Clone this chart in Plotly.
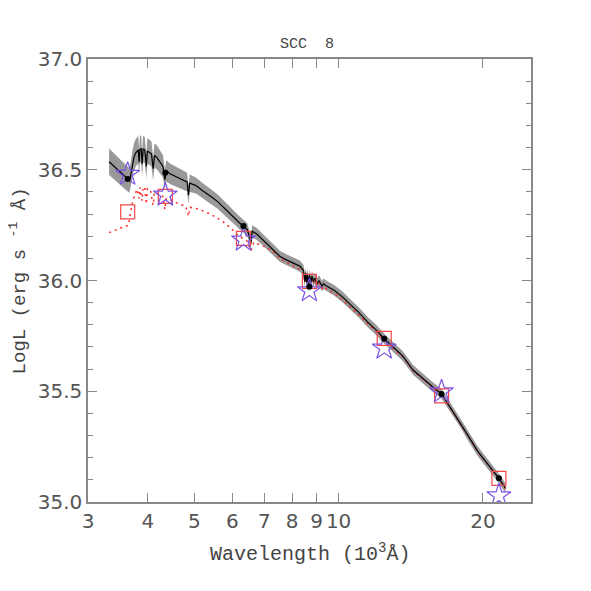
import numpy as np
import plotly.graph_objects as go

# =============================================================================
# DATA  (wavelength in 10^3 Angstrom, luminosity as log L)
# =============================================================================

sed_wave = [
    3.32, 3.40, 3.48, 3.56, 3.63, 3.66, 3.68, 3.71, 3.74, 3.77, 3.80, 3.82,
    3.835, 3.85, 3.875, 3.889, 3.91, 3.94, 3.97, 3.99, 4.03, 4.07, 4.102,
    4.13, 4.18, 4.24, 4.30, 4.34, 4.37, 4.45, 4.55, 4.65, 4.75, 4.83, 4.861,
    4.89, 4.95, 5.05, 5.17, 5.30, 5.45, 5.60, 5.75, 5.90, 6.05, 6.20, 6.33,
    6.45, 6.563, 6.60, 6.75, 6.90, 7.10, 7.30, 7.55, 7.80, 8.05, 8.30, 8.45,
    8.50, 8.54, 8.58, 8.62, 8.66, 8.70, 8.75, 8.80, 8.86, 8.92, 9.01, 9.10,
    9.23, 9.30, 9.44, 9.80, 10.2, 10.6, 11.0, 11.5, 12.0, 12.45, 13.0, 13.6,
    14.3, 15.0, 15.7, 16.4, 17.2, 18.0, 18.5, 19.5, 20.5, 21.6, 22.3,
]
sed_logl = [
    36.536, 36.515, 36.495, 36.475, 36.458, 36.452, 36.470, 36.520, 36.555,
    36.575, 36.585, 36.590, 36.535, 36.592, 36.595, 36.525, 36.593, 36.590,
    36.515, 36.585, 36.578, 36.572, 36.505, 36.565, 36.555, 36.535, 36.515,
    36.455, 36.495, 36.482, 36.470, 36.462, 36.452, 36.445, 36.385, 36.440,
    36.435, 36.428, 36.410, 36.395, 36.375, 36.355, 36.330, 36.305, 36.285,
    36.262, 36.245, 36.230, 36.170, 36.222, 36.210, 36.190, 36.165, 36.140,
    36.108, 36.092, 36.080, 36.065, 36.045, 35.995, 36.035, 35.990, 36.030,
    35.975, 36.025, 35.990, 36.020, 35.995, 36.010, 35.985, 36.000, 35.975,
    35.985, 35.975, 35.955, 35.925, 35.890, 35.857, 35.812, 35.775, 35.737,
    35.700, 35.660, 35.596, 35.555, 35.520, 35.488, 35.420, 35.355, 35.310,
    35.230, 35.170, 35.107, 35.062,
]
# half-width of the grey uncertainty band
sed_err = [
    0.060, 0.058, 0.057, 0.056, 0.056, 0.056, 0.058, 0.060, 0.062, 0.062,
    0.062, 0.062, 0.055, 0.062, 0.060, 0.055, 0.060, 0.058, 0.055, 0.058,
    0.057, 0.056, 0.052, 0.055, 0.054, 0.052, 0.050, 0.048, 0.048, 0.046,
    0.045, 0.044, 0.043, 0.042, 0.040, 0.040, 0.038, 0.036, 0.035, 0.034,
    0.033, 0.032, 0.031, 0.030, 0.030, 0.029, 0.029, 0.028, 0.028, 0.028,
    0.027, 0.027, 0.026, 0.026, 0.025, 0.025, 0.025, 0.025, 0.025, 0.028,
    0.025, 0.028, 0.025, 0.028, 0.025, 0.026, 0.025, 0.025, 0.025, 0.025,
    0.024, 0.024, 0.024, 0.024, 0.024, 0.024, 0.023, 0.023, 0.023, 0.023,
    0.023, 0.022, 0.022, 0.022, 0.022, 0.022, 0.022, 0.022, 0.022, 0.022,
    0.022, 0.022, 0.022, 0.022,
]

red_wave = [
    3.32, 3.42, 3.52, 3.60, 3.645, 3.66, 3.69, 3.72, 3.76, 3.80, 3.835, 3.85,
    3.889, 3.91, 3.94, 3.97, 3.99, 4.05, 4.102, 4.13, 4.22, 4.30, 4.34, 4.37,
    4.50, 4.65, 4.80, 4.861, 4.90, 5.05, 5.20, 5.40, 5.60, 5.80, 6.00, 6.20,
    6.43, 6.563, 6.65, 6.85, 7.08, 7.30, 7.55, 7.80, 8.05, 8.30, 8.45, 8.50,
    8.54, 8.58, 8.62, 8.66, 8.70, 8.80, 8.86, 8.92, 9.01, 9.10, 9.23, 9.30,
    9.44, 9.80, 10.2, 10.6, 11.0, 11.5, 12.0, 12.45, 13.0, 13.6, 14.3, 15.0,
    15.7, 16.4, 17.2, 18.0, 18.5, 19.5, 20.5, 21.6, 22.3,
]
red_logl = [
    36.216, 36.228, 36.238, 36.245, 36.250, 36.275, 36.320, 36.360, 36.390,
    36.412, 36.370, 36.420, 36.360, 36.422, 36.420, 36.345, 36.415, 36.408,
    36.340, 36.400, 36.390, 36.378, 36.320, 36.370, 36.360, 36.345, 36.335,
    36.290, 36.330, 36.325, 36.315, 36.300, 36.280, 36.258, 36.230, 36.200,
    36.180, 36.135, 36.172, 36.160, 36.150, 36.130, 36.100, 36.080, 36.065,
    36.050, 36.035, 35.990, 36.025, 35.985, 36.020, 35.970, 36.015, 36.005,
    35.985, 36.000, 35.975, 35.990, 35.965, 35.975, 35.962, 35.940, 35.912,
    35.878, 35.845, 35.802, 35.768, 35.730, 35.695, 35.655, 35.593, 35.553,
    35.518, 35.486, 35.418, 35.353, 35.308, 35.228, 35.168, 35.105, 35.060,
]

phot_wave = [3.63, 4.35, 6.33, 8.69, 12.45, 16.4, 21.6]
model_logl = [36.458, 36.487, 36.246, 35.972, 35.737, 35.488, 35.107]
square_logl = [36.310, 36.380, 36.190, 35.996, 35.739, 35.479, 35.107]
star_logl = [36.480, 36.386, 36.183, 35.954, 35.695, 35.498, 35.028]

x_ticks = [3, 4, 5, 6, 7, 8, 9, 10, 20]

# =============================================================================
# FIGURE
# =============================================================================

upper = np.array(sed_logl) + np.array(sed_err)
lower = np.array(sed_logl) - np.array(sed_err)

fig = go.Figure()

# grey band
fig.add_trace(go.Scatter(
    x=sed_wave + sed_wave[::-1],
    y=list(upper) + list(lower[::-1]),
    fill="toself",
    fillcolor="#999999",
    line=dict(width=0),
    mode="lines",
    hoverinfo="skip",
))

# red dotted model
fig.add_trace(go.Scatter(
    x=red_wave, y=red_logl,
    mode="lines",
    line=dict(color="#ff2a2a", width=1.5, dash="2px,4px"),
))

# black SED
fig.add_trace(go.Scatter(
    x=sed_wave, y=sed_logl,
    mode="lines",
    line=dict(color="black", width=1.2),
))

fig.add_trace(go.Scatter(
    x=phot_wave, y=square_logl,
    mode="markers",
    marker=dict(symbol="square-open", size=14, color="#f04848",
                line=dict(width=1.2)),
))

fig.add_trace(go.Scatter(
    x=phot_wave, y=star_logl,
    mode="markers",
    marker=dict(symbol="star-open", size=18, color="#7a52e6",
                line=dict(width=1.2)),
))

fig.add_trace(go.Scatter(
    x=phot_wave, y=model_logl,
    mode="markers",
    marker=dict(symbol="circle", size=6, color="black"),
))

tick_font = dict(family="DejaVu Sans", size=20, color="#555555")
mono_font = dict(family="Liberation Mono", size=20, color="#444444")

# page body adds an 8px offset, margins compensate for it
fig.update_layout(
    width=591,
    height=591,
    showlegend=False,
    paper_bgcolor="white",
    plot_bgcolor="white",
    margin=dict(l=80, r=68, t=51, b=97),
    annotations=[
        dict(
            text="SCC  8",
            x=0.494, y=1.032,
            xref="paper", yref="paper",
            yanchor="middle",
            showarrow=False,
            font=dict(family="Liberation Mono", size=15, color="#444444"),
        ),
        dict(
            text="Wavelength (10<sup>3</sup>Å)",
            x=0.5, y=-0.115,
            xref="paper", yref="paper",
            yanchor="middle",
            showarrow=False,
            font=mono_font,
        ),
        dict(
            text="LogL (erg s <sup>-1</sup> Å)",
            x=-0.156, y=0.5,
            xref="paper", yref="paper",
            xanchor="center",
            yanchor="middle",
            textangle=-90,
            showarrow=False,
            font=dict(family="Liberation Mono", size=19, color="#444444"),
        ),
    ],
)

fig.update_xaxes(
    type="log",
    range=[np.log10(3), np.log10(25.2)],
    tickvals=x_ticks,
    ticktext=[str(v) for v in x_ticks],
    ticks="inside",
    ticklen=9,
    tickcolor="#888888",
    tickfont=tick_font,
    showgrid=False,
    zeroline=False,
    showline=True,
    linecolor="#888888",
    linewidth=1.5,
    mirror="ticks",
)

fig.update_yaxes(
    range=[35.0, 37.0],
    dtick=0.5,
    tickformat=".1f",
    ticks="inside",
    ticklen=9,
    tickcolor="#888888",
    tickfont=tick_font,
    minor=dict(dtick=0.1, ticks="inside", ticklen=5, tickcolor="#888888"),
    showgrid=False,
    zeroline=False,
    showline=True,
    linecolor="#888888",
    linewidth=1.5,
    mirror="ticks",
)

fig.write_html("out.html")
